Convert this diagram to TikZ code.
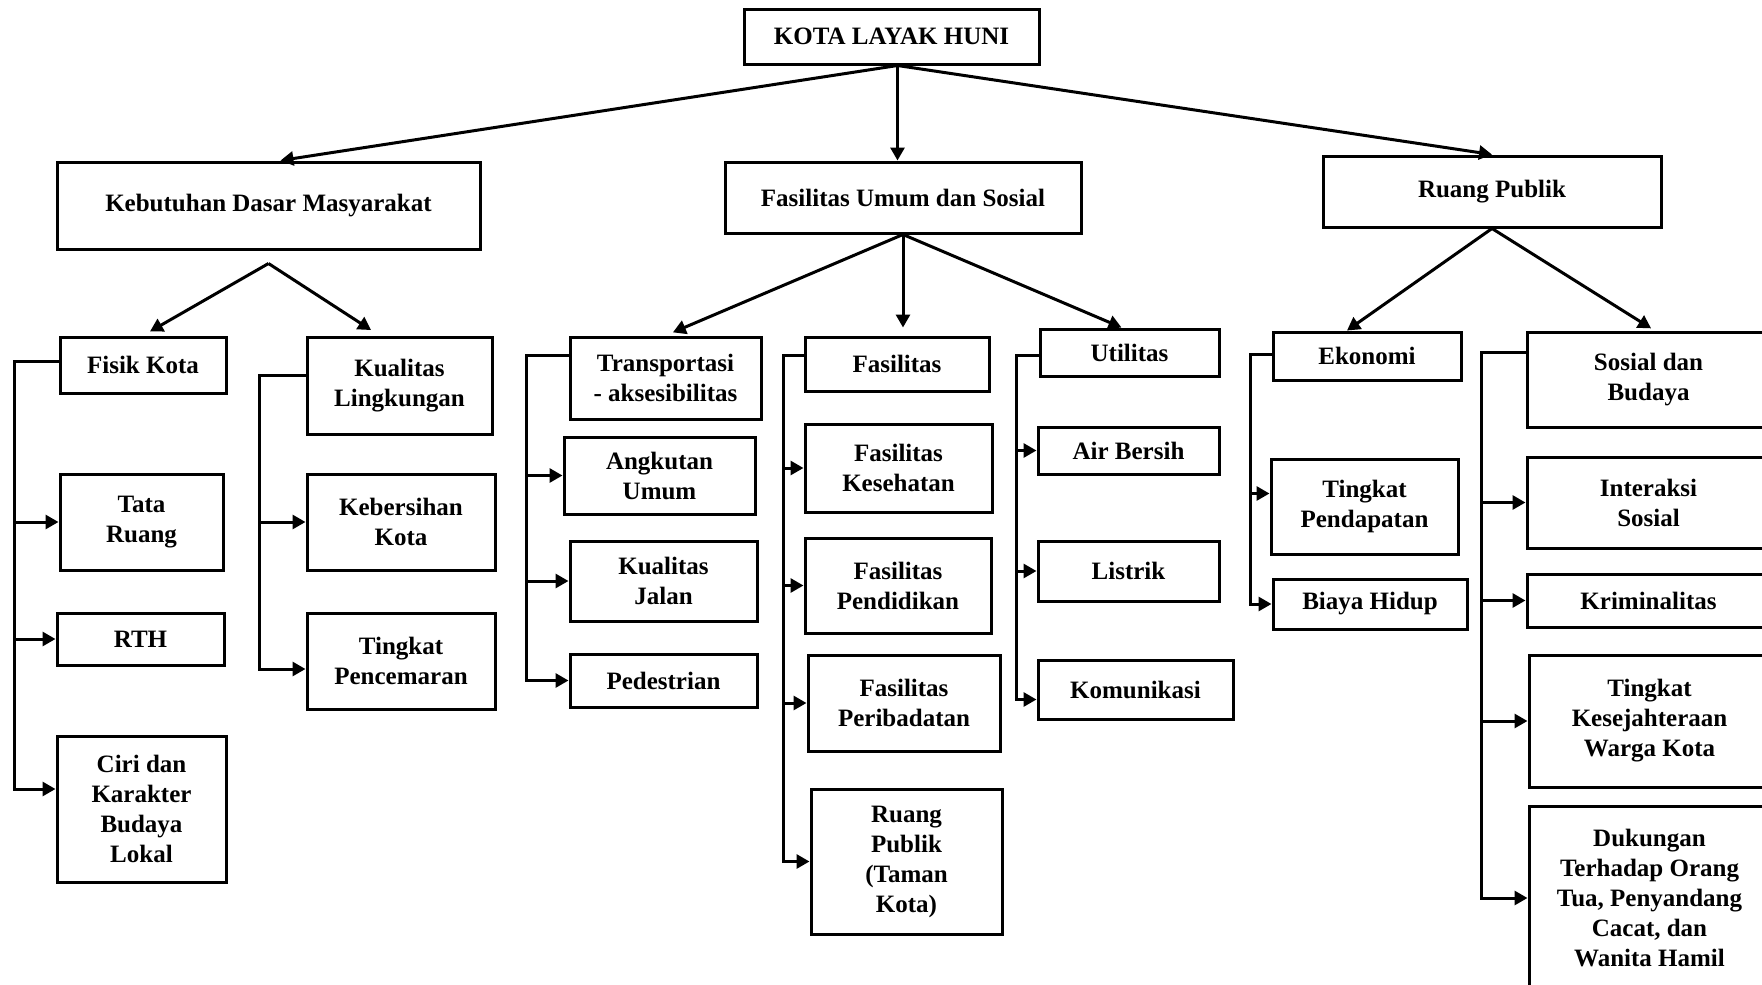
\documentclass[tikz,border=0pt]{standalone}
\usepackage{fontspec}
\setmainfont{Liberation Serif}
\usepackage{tikz}
\usetikzlibrary{arrows.meta}

\tikzset{
	kotak/.style={draw=black, line width=1.5pt, inner sep=0pt, align=center,
		font=\fontsize{12.5}{15}\selectfont\bfseries},
	uk/.style 2 args={minimum width=#1*0.5pt, minimum height=#2*0.5pt},
	garis/.style={line width=1.5pt},
}

\begin{document}
\begin{tikzpicture}[x=0.5pt, y=-0.5pt, >={Triangle[length=6.5pt, width=7pt]}]
		
		\useasboundingbox (0,0) rectangle (1762,985);
		\clip (0,0) rectangle (1762,985);
		
		% Rectangle
		\node[kotak, uk={295}{55}] (kota) at (891.5,36.5) {KOTA LAYAK HUNI};
		
		\node[kotak, uk={423}{87}] (kebutuhan) at (268.5,205.5) {Kebutuhan Dasar Masyarakat};
		\node[kotak, uk={356}{71}] (fum) at (903,197.5) {Fasilitas Umum dan Sosial};
		\node[kotak, uk={338}{71}] (rpublik) at (1492,191.5) {Ruang Publik};
		
		\node[kotak, uk={166}{56}] (fisik) at (143,365) {Fisik Kota};
		\node[kotak, uk={163}{96}] (tata) at (141.5,522) {Tata\\Ruang};
		\node[kotak, uk={167}{52}] (rth) at (140.5,639) {RTH};
		\node[kotak, uk={169}{146}] (ciri) at (141.5,809) {Ciri dan\\Karakter\\Budaya\\Lokal};
		
		\node[kotak, uk={185}{97}] (kling) at (399.5,385.5) {Kualitas\\Lingkungan};
		\node[kotak, uk={188}{96}] (bersih) at (401,522) {Kebersihan\\Kota};
		\node[kotak, uk={188}{96}] (cemar) at (401,661) {Tingkat\\Pencemaran};
		
		\node[kotak, uk={191}{82}] (trans) at (665.5,378) {Transportasi\\- aksesibilitas};
		\node[kotak, uk={191}{77}] (angkut) at (659.5,475.5) {Angkutan\\Umum};
		\node[kotak, uk={187}{80}] (jalan) at (663.5,581) {Kualitas\\Jalan};
		\node[kotak, uk={187}{53}] (pedes) at (663.5,680.5) {Pedestrian};
		
		\node[kotak, uk={184}{54}] (fas) at (897,364) {Fasilitas};
		\node[kotak, uk={187}{88}] (sehat) at (898.5,468) {Fasilitas\\Kesehatan};
		\node[kotak, uk={186}{95}] (didik) at (898,585.5) {Fasilitas\\Pendidikan};
		\node[kotak, uk={192}{96}] (ibadah) at (904,703) {Fasilitas\\Peribadatan};
		\node[kotak, uk={191}{145}] (taman) at (906.5,861.5) {Ruang\\Publik\\(Taman\\Kota)};
		
		\node[kotak, uk={179}{47}] (util) at (1129.5,352.5) {Utilitas};
		\node[kotak, uk={181}{47}] (air) at (1128.5,450.5) {Air Bersih};
		\node[kotak, uk={181}{60}] (listrik) at (1128.5,571) {Listrik};
		\node[kotak, uk={195}{59}] (kom) at (1135.5,689.5) {Komunikasi};
		
		\node[kotak, uk={188}{48}] (eko) at (1367,356) {Ekonomi};
		\node[kotak, uk={187}{95}] (dapat) at (1364.5,506.5) {Tingkat\\Pendapatan};
		\node[kotak, uk={194}{50}] (biaya) at (1370,604) {Biaya Hidup};
		
		\node[kotak, uk={243}{95}] (sosbud) at (1648.5,379.5) {Sosial dan\\Budaya};
		\node[kotak, uk={243}{91}] (interaksi) at (1648.5,502.5) {Interaksi\\Sosial};
		\node[kotak, uk={243}{53}] (krim) at (1648.5,600.5) {Kriminalitas};
		\node[kotak, uk={241}{132}] (sejahtera) at (1649.5,721) {Tingkat\\Kesejahteraan\\Warga Kota};
		\node[kotak, uk={241}{184}] (dukung) at (1649.5,898) {Dukungan\\Terhadap Orang\\Tua, Penyandang\\Cacat, dan\\Wanita Hamil};
		
		% Lines
		\coordinate (puncak) at ([xshift=3pt]kota.south);
		\draw[garis, ->] (puncak) -- ([xshift=6pt]kebutuhan.north);
		\draw[garis, ->] (puncak) -- (puncak |- fum.north);
		\draw[garis, ->] (puncak) -- (rpublik.north);
		
		\coordinate (cabang1) at ([yshift=-6.5pt]kebutuhan.south);
		\draw[garis, ->, shorten >=4pt] (cabang1) -- (fisik.north);
		\draw[garis, ->, shorten >=5pt] (cabang1) -- ([xshift=-10pt]kling.north);
		
		\draw[garis, ->, shorten >=4pt] (fum.south) -- (trans.north);
		\draw[garis, ->, shorten >=4pt] (fum.south) -- (fum.south |- fas.north);
		\draw[garis, ->] (fum.south) -- ([xshift=-4pt]util.north);
		
		\draw[garis, ->] (rpublik.south) -- ([xshift=-10pt]eko.north);
		\draw[garis, ->, shorten >=2pt] (rpublik.south) -- ([xshift=3pt]sosbud.north);
		
		% Fisik Kota
		\coordinate (k1) at (14,361);
		\draw[garis, ->] (fisik.west |- k1) -- (k1) |- ([yshift=10pt]ciri.west);
		\draw[garis, ->] (k1 |- tata.west) -- (tata.west);
		\draw[garis, ->] (k1 |- rth.west) -- (rth.west);
		
		% Kualitas Lingkungan
		\coordinate (k2) at (259,375);
		\draw[garis, ->] (kling.west |- k2) -- (k2) |- ([yshift=-4pt]cemar.west);
		\draw[garis, ->] (k2 |- bersih.west) -- (bersih.west);
		
		% Transportasi
		\coordinate (k3) at (526,355);
		\draw[garis, ->] (trans.west |- k3) -- (k3) |- (pedes.west);
		\draw[garis, ->] (k3 |- angkut.west) -- (angkut.west);
		\draw[garis, ->] (k3 |- jalan.west) -- (jalan.west);
		
		% Fasilitas
		\coordinate (k4) at (783,355);
		\draw[garis, ->] (fas.west |- k4) -- (k4) |- (taman.west);
		\draw[garis, ->] (k4 |- sehat.west) -- (sehat.west);
		\draw[garis, ->] (k4 |- didik.west) -- (didik.west);
		\draw[garis, ->] (k4 |- ibadah.west) -- (ibadah.west);
		
		% Utilitas
		\coordinate (k5) at (1016,355);
		\draw[garis, ->] (util.west |- k5) -- (k5) |- ([yshift=-5pt]kom.west);
		\draw[garis, ->] (k5 |- air.west) -- (air.west);
		\draw[garis, ->] (k5 |- listrik.west) -- (listrik.west);
		
		% Ekonomi
		\coordinate (k6) at (1250,354);
		\draw[garis, ->] (eko.west |- k6) -- (k6) |- (biaya.west);
		\draw[garis, ->] ([yshift=6.5pt]k6 |- dapat.west) -- ([yshift=6.5pt]dapat.west);
		
		% Sosial dan Budaya
		\coordinate (k7) at (1481,352);
		\draw[garis, ->] (sosbud.west |- k7) -- (k7) |- (dukung.west);
		\draw[garis, ->] (k7 |- interaksi.west) -- (interaksi.west);
		\draw[garis, ->] (k7 |- krim.west) -- (krim.west);
		\draw[garis, ->] (k7 |- sejahtera.west) -- (sejahtera.west);
		
	\end{tikzpicture}
\end{document}
